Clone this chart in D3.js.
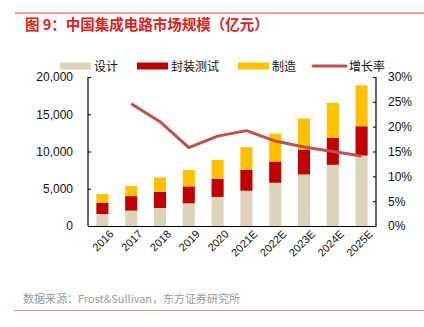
<!DOCTYPE html>
<html>
<head>
<meta charset="utf-8">
<script src="https://cdn.jsdelivr.net/npm/d3@7"></script>
<style>
  body { margin: 0; background: #fff; }
  svg { display: block; font-family: "Liberation Sans", Arial, "Noto Sans CJK SC", sans-serif; }
</style>
</head>
<body>
<div id="chart"></div>
<script>
// market size, 亿元
const years = ["2016", "2017", "2018", "2019", "2020", "2021E", "2022E", "2023E", "2024E", "2025E"];
const design = [1600, 2060, 2420, 3040, 3900, 4730, 5800, 6920, 8210, 9460];
const packaging = [1500, 1950, 2170, 2280, 2420, 2810, 2860, 3350, 3620, 3930];
const manufacturing = [1180, 1350, 1930, 2190, 2560, 3040, 3750, 4150, 4690, 5490];
const growth = [null, 24.6, 21.0, 15.8, 18.1, 19.2, 17.1, 15.9, 15.0, 14.1];
const leftTicks = [0, 5000, 10000, 15000, 20000];
const rightTicks = [0, 5, 10, 15, 20, 25, 30];

const seriesNames = ["设计", "封装测试", "制造"];
const colors = ["#ddd3bc", "#c00000", "#ffc000"];
const lineColor = "#c0504d";

const W = 424, H = 327;
const margin = {top: 77, right: 48, bottom: 101, left: 88};
const width = W - margin.left - margin.right;
const height = H - margin.top - margin.bottom;

const svg = d3.select("#chart").append("svg")
    .attr("width", W).attr("height", H);

// header rule + title
svg.append("line").attr("x1", 15).attr("x2", W).attr("y1", 13).attr("y2", 13)
    .attr("stroke", "#e8403c").attr("stroke-width", 1);
svg.append("text").attr("x", 25).attr("y", 29.5)
    .attr("fill", "#e0201c").style("font-size", "14.5px").style("font-weight", "bold")
    .style("font-family", "'Noto Sans CJK SC', sans-serif")
    .text("图 9：中国集成电路市场规模（亿元）");

const g = svg.append("g").attr("transform", `translate(${margin.left},${margin.top})`);

const x = d3.scaleBand().domain(years).range([0, width]).paddingInner(0.58).paddingOuter(0.29);
const y = d3.scaleLinear().domain([0, 20000]).range([height, 0]);
const y2 = d3.scaleLinear().domain([0, 30]).range([height, 0]);

const rows = years.map((yr, i) => ({year: yr, s0: design[i], s1: packaging[i], s2: manufacturing[i]}));
const stack = d3.stack().keys(["s0", "s1", "s2"])(rows);

g.selectAll("g.layer").data(stack).enter().append("g")
    .attr("class", "layer")
    .attr("fill", (d, i) => colors[i])
  .selectAll("rect").data(d => d).enter().append("rect")
    .attr("x", d => x(d.data.year))
    .attr("width", x.bandwidth())
    .attr("y", d => y(d[1]))
    .attr("height", d => y(d[0]) - y(d[1]));

// growth line
const line = d3.line()
    .defined(d => d != null)
    .x((d, i) => x(years[i]) + x.bandwidth() / 2)
    .y(d => y2(d));
g.append("path").datum(growth)
    .attr("fill", "none").attr("stroke", lineColor).attr("stroke-width", 3)
    .attr("stroke-linejoin", "round")
    .attr("d", line);

// axes
const axisL = g.append("g")
    .call(d3.axisLeft(y).tickValues(leftTicks).tickSize(-3).tickPadding(15).tickFormat(d3.format(",")));
const axisR = g.append("g").attr("transform", `translate(${width},0)`)
    .call(d3.axisRight(y2).tickValues(rightTicks).tickSize(-3).tickPadding(12).tickFormat(d => d + "%"));
const axisB = g.append("g").attr("transform", `translate(0,${height})`)
    .call(d3.axisBottom(x).tickSize(0).tickPadding(8));

[axisL, axisR, axisB].forEach(a => {
  a.select(".domain").attr("stroke", "#000").attr("stroke-width", 1.2);
  a.selectAll(".tick line").attr("stroke", "#000");
  a.selectAll("text").attr("fill", "#111").style("font-size", "12px")
      .style("font-family", "'Liberation Sans', Arial, sans-serif");
});
axisL.select(".domain").attr("d", `M0,0V${height}`);
axisR.select(".domain").attr("d", `M0,0V${height}`);
axisB.selectAll("text")
    .style("font-size", "11px")
    .attr("text-anchor", "end")
    .attr("dx", "0.2em").attr("dy", "0.6em")
    .attr("transform", "rotate(-45)");

// legend
const legend = [
  {name: seriesNames[0], color: colors[0], x: 60, type: "rect"},
  {name: seriesNames[1], color: colors[1], x: 137, type: "rect"},
  {name: seriesNames[2], color: colors[2], x: 238, type: "rect"},
  {name: "增长率", color: lineColor, x: 313, type: "line"}
];
const lg = svg.append("g").attr("transform", "translate(0,66)");
legend.forEach(l => {
  if (l.type === "rect") {
    lg.append("rect").attr("x", l.x).attr("y", -3.5).attr("width", 31).attr("height", 7).attr("fill", l.color);
  } else {
    lg.append("line").attr("x1", l.x).attr("x2", l.x + 33).attr("y1", 0).attr("y2", 0)
        .attr("stroke", l.color).attr("stroke-width", 3).attr("stroke-linecap", "round");
  }
  lg.append("text").attr("x", l.x + (l.type === "line" ? 36 : 34)).attr("y", 4.5)
      .style("font-size", "12px").style("font-family", "'Noto Sans CJK SC', sans-serif")
      .attr("fill", "#111").text(l.name);
});

// source note + bottom rule
svg.append("text").attr("x", 23).attr("y", 303)
    .attr("fill", "#999").style("font-size", "11px")
    .style("font-family", "'Noto Sans CJK SC', sans-serif")
    .text("数据来源：Frost&Sullivan，东方证券研究所");
svg.append("line").attr("x1", 14).attr("x2", W).attr("y1", 310.5).attr("y2", 310.5)
    .attr("stroke", "#f08a84").attr("stroke-width", 1.2);
</script>
</body>
</html>
